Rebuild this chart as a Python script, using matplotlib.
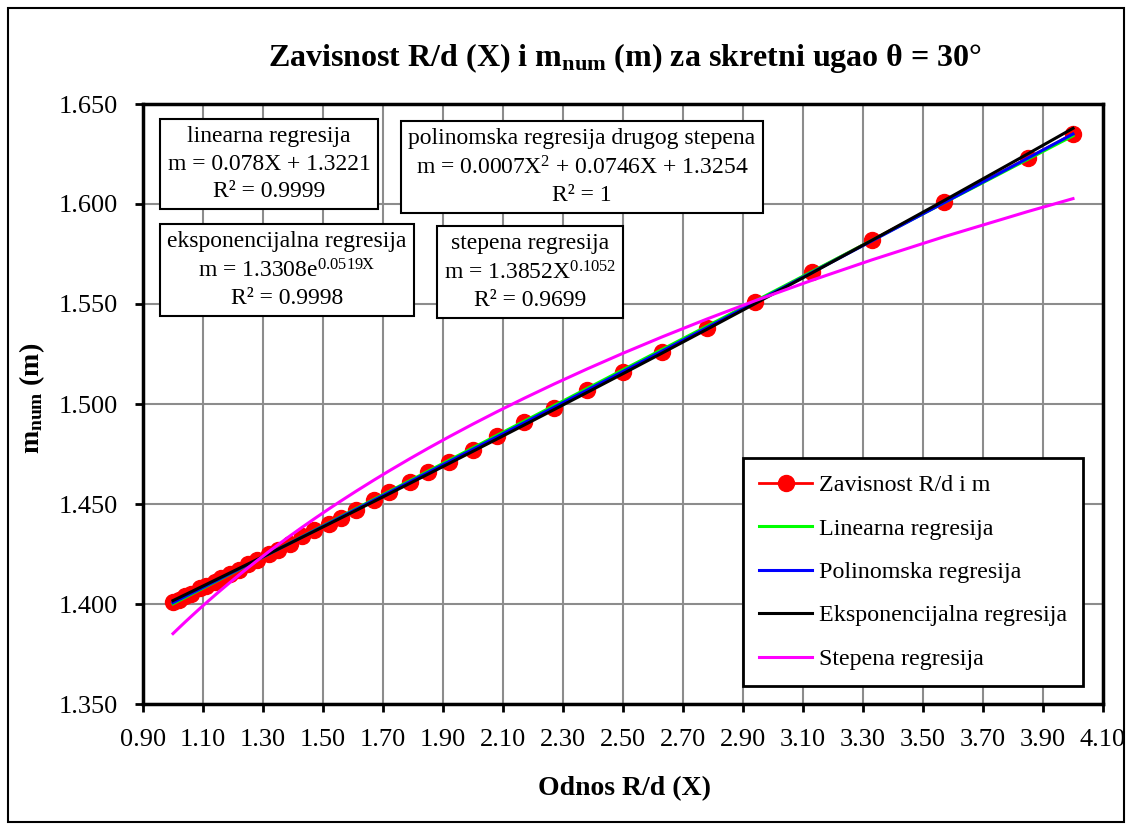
import numpy as np
import matplotlib
matplotlib.use("Agg")
import matplotlib.pyplot as plt
from matplotlib.patches import Rectangle
from matplotlib.lines import Line2D

plt.rcParams['font.family'] = ['Liberation Serif', 'DejaVu Serif']
plt.rcParams['mathtext.fontset'] = 'custom'
plt.rcParams['mathtext.rm'] = 'Liberation Serif'
plt.rcParams['mathtext.it'] = 'Liberation Serif:italic'
plt.rcParams['mathtext.bf'] = 'Liberation Serif:bold'

# data
x_rd = [1.00, 1.02, 1.04, 1.06, 1.09, 1.11, 1.14, 1.16, 1.19, 1.22,
        1.25, 1.28, 1.32, 1.35, 1.39, 1.43, 1.47, 1.52, 1.56, 1.61,
        1.67, 1.72, 1.79, 1.85, 1.92, 2.00, 2.08, 2.17, 2.27, 2.38,
        2.50, 2.63, 2.78, 2.94, 3.13, 3.33, 3.57, 3.85, 4.00]
m_num = [1.401, 1.402, 1.404, 1.405, 1.408, 1.409, 1.411, 1.413, 1.415, 1.417,
         1.420, 1.422, 1.425, 1.427, 1.430, 1.434, 1.437, 1.440, 1.443, 1.447,
         1.452, 1.456, 1.461, 1.466, 1.471, 1.477, 1.484, 1.491, 1.498, 1.507,
         1.516, 1.526, 1.538, 1.551, 1.566, 1.582, 1.601, 1.623, 1.635]

# trendline coefficients shown on the chart
lin_coef = [0.078, 1.3221]
poly_coef = [0.0007, 0.0746, 1.3254]
exp_coef = [1.3308, 0.0519]
pow_coef = [1.3852, 0.1052]

x_ticks = [0.90, 1.10, 1.30, 1.50, 1.70, 1.90, 2.10, 2.30, 2.50, 2.70,
           2.90, 3.10, 3.30, 3.50, 3.70, 3.90, 4.10]
y_ticks = [1.350, 1.400, 1.450, 1.500, 1.550, 1.600, 1.650]

legend_labels = ['Zavisnost R/d i m', 'Linearna regresija', 'Polinomska regresija',
                 'Eksponencijalna regresija', 'Stepena regresija']

W, H = 1132, 830
fig = plt.figure(figsize=(W / 100, H / 100), dpi=100)
ax = fig.add_axes([143 / W, 1 - 704 / H, 960 / W, 600 / H])

xs = np.array(x_rd)
m_lin = np.polyval(lin_coef, xs)
m_poly = np.polyval(poly_coef, xs)
m_exp = exp_coef[0] * np.exp(exp_coef[1] * xs)
m_pow = pow_coef[0] * xs ** pow_coef[1]

ax.plot(xs, m_num, color='#FF0000', lw=2, marker='o', ms=11.5, zorder=3)
ax.plot(xs, m_lin, color='#00FF00', lw=2.2, zorder=4)
ax.plot(xs, m_poly, color='#0000FF', lw=2.2, zorder=5)
ax.plot(xs, m_exp, color='black', lw=2.2, zorder=6)
ax.plot(xs, m_pow, color='#FF00FF', lw=2.2, zorder=7)

ax.set_xlim(0.90, 4.10)
ax.set_ylim(1.350, 1.650)
ax.set_xticks(x_ticks)
ax.set_yticks(y_ticks)
ax.set_xticklabels(['%.2f' % v for v in x_ticks])
ax.set_yticklabels(['%.3f' % v for v in y_ticks])
ax.grid(True, color='#8c8c8c', lw=1.5)
ax.set_axisbelow(True)
for s in ax.spines.values():
    s.set_linewidth(2.5)
ax.tick_params(axis='both', direction='out', length=6, width=2, labelsize=19)
ax.tick_params(axis='x', pad=12)
ax.tick_params(axis='y', pad=12)

# legend
handles = [Line2D([], [], color='#FF0000', lw=2, marker='o', ms=11.5),
           Line2D([], [], color='#00FF00', lw=2.2),
           Line2D([], [], color='#0000FF', lw=2.2),
           Line2D([], [], color='black', lw=2.2),
           Line2D([], [], color='#FF00FF', lw=2.2)]
leg = ax.legend(handles, legend_labels, loc='upper left',
                bbox_to_anchor=((743 - 143) / 960, (704 - 458) / 600),
                fontsize=17.3, frameon=True, fancybox=False, framealpha=1,
                edgecolor='black', handlelength=2.2, handletextpad=0.28,
                labelspacing=0.9, borderpad=0.68, borderaxespad=0)
leg.get_frame().set_linewidth(2)
leg.set_zorder(10)

# equation boxes
box = dict(boxstyle='square,pad=0.3', facecolor='white', edgecolor='black', lw=1.5)
eqs = [(269, 164, 'linearna regresija\nm = 0.078X + 1.3221\nR² = 0.9999'),
       (582, 167, 'polinomska regresija drugog stepena\nm = 0.0007X$^{2}$ + 0.0746X + 1.3254\nR² = 1'),
       (287, 270, 'eksponencijalna regresija\nm = 1.3308e$^{\\mathrm{0.0519X}}$\nR² = 0.9998'),
       (530, 272, 'stepena regresija\nm = 1.3852X$^{\\mathrm{0.1052}}$\nR² = 0.9699')]
for px, py, txt in eqs:
    fig.text(px / W, 1 - py / H, txt, ha='center', va='center', fontsize=17,
             bbox=box, linespacing=1.38, zorder=10)

fig.text(625 / W, 1 - 58 / H,
         r'Zavisnost R/d (X) i m$_{\mathbf{num}}$ (m) za skretni ugao θ = 30°',
         ha='center', va='center', fontsize=23, fontweight='bold')
fig.text(624 / W, 1 - 789 / H, 'Odnos R/d (X)', ha='center', va='center',
         fontsize=20, fontweight='bold')
fig.text(32 / W, 1 - 398 / H, r'm$_{\mathbf{num}}$ (m)', ha='center', va='center',
         rotation=90, fontsize=20, fontweight='bold')

fig.patches.append(Rectangle((8 / W, 8 / H), 1116 / W, 814 / H, transform=fig.transFigure,
                             fill=False, edgecolor='black', lw=1.5))

fig.savefig('out.png', dpi=100)
